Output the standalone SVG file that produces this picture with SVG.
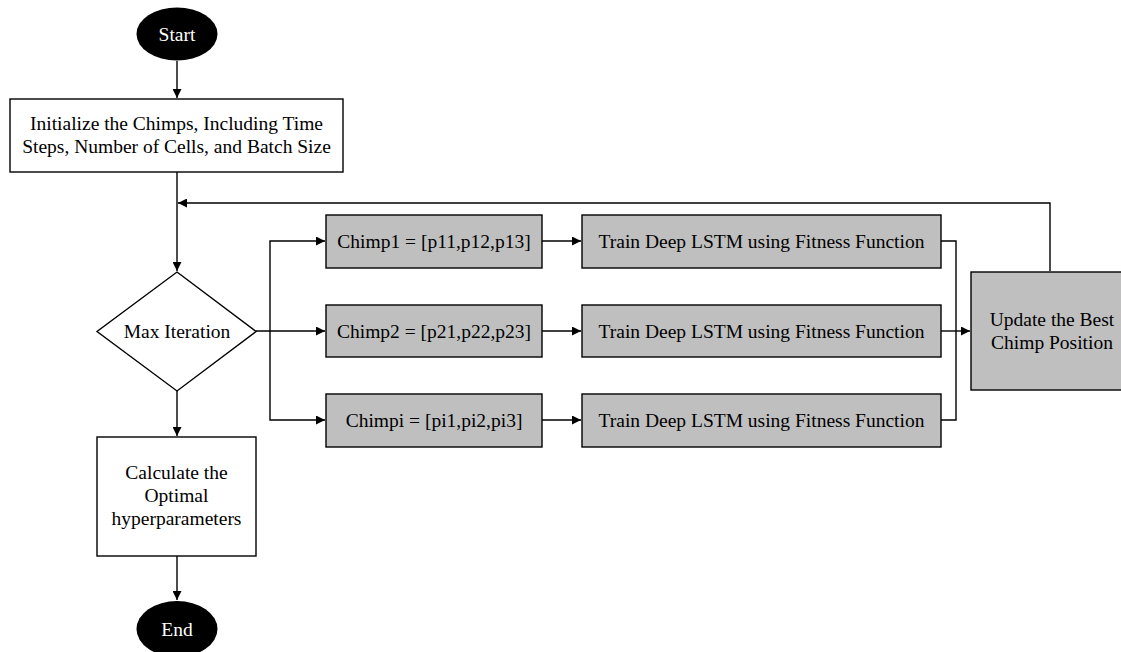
<svg xmlns="http://www.w3.org/2000/svg" width="1121" height="652" viewBox="0 0 1121 652">
<style>
text{font-family:"Liberation Serif","Times New Roman",serif;font-size:19.5px;fill:#000;text-anchor:middle}
.w{fill:#fff}
.box{fill:#fff;stroke:#000;stroke-width:1.4}
.g{fill:#bfbfbf;stroke:#000;stroke-width:1.4}
.term{fill:#000}
.c{fill:none;stroke:#000;stroke-width:1.4}
</style>
<defs>
<marker id="ah" viewBox="0 0 10 10" refX="10" refY="5" markerWidth="10" markerHeight="9" markerUnits="userSpaceOnUse" orient="auto">
<path d="M0,0 L10,5 L0,10 z" fill="#000"/>
</marker>
</defs>
<g id="connectors">
<path class="c" d="M177,61 V98" marker-end="url(#ah)"/>
<path class="c" d="M177,172 V271" marker-end="url(#ah)"/>
<path class="c" d="M1050,271 V203 H178" marker-end="url(#ah)"/>
<path class="c" d="M256,331 H325" marker-end="url(#ah)"/>
<path class="c" d="M270,331 V241 H325" marker-end="url(#ah)"/>
<path class="c" d="M270,331 V420 H325" marker-end="url(#ah)"/>
<path class="c" d="M542,241 H581" marker-end="url(#ah)"/>
<path class="c" d="M542,331 H581" marker-end="url(#ah)"/>
<path class="c" d="M542,420 H581" marker-end="url(#ah)"/>
<path class="c" d="M941,241 H956 V420 H941"/>
<path class="c" d="M941,331 H970" marker-end="url(#ah)"/>
<path class="c" d="M177,391 V436" marker-end="url(#ah)"/>
<path class="c" d="M177,556 V600" marker-end="url(#ah)"/>
</g>
<g id="start">
<ellipse class="term" cx="177" cy="34" rx="40.5" ry="26.5"/>
<text class="w" x="177" y="41">Start</text>
</g>
<g id="init">
<rect class="box" x="10" y="99" width="333" height="73"/>
<text x="176.5" y="130">Initialize the Chimps, Including Time</text>
<text x="176.5" y="153">Steps, Number of Cells, and Batch Size</text>
</g>
<g id="maxiter">
<path class="box" d="M177,272 L256,331.5 L177,391 L97,331.5 Z"/>
<text x="177" y="338">Max Iteration</text>
</g>
<g id="chimp1">
<rect class="g" x="326" y="215" width="216" height="53"/>
<text x="434" y="248">Chimp1 = [p11,p12,p13]</text>
</g>
<g id="chimp2">
<rect class="g" x="326" y="305" width="216" height="52"/>
<text x="434" y="338">Chimp2 = [p21,p22,p23]</text>
</g>
<g id="chimpi">
<rect class="g" x="326" y="394" width="216" height="53"/>
<text x="434" y="427">Chimpi = [pi1,pi2,pi3]</text>
</g>
<g id="train1">
<rect class="g" x="582" y="215" width="359" height="53"/>
<text x="761.5" y="248">Train Deep LSTM using Fitness Function</text>
</g>
<g id="train2">
<rect class="g" x="582" y="305" width="359" height="52"/>
<text x="761.5" y="338">Train Deep LSTM using Fitness Function</text>
</g>
<g id="traini">
<rect class="g" x="582" y="394" width="359" height="53"/>
<text x="761.5" y="427">Train Deep LSTM using Fitness Function</text>
</g>
<g id="update">
<rect class="g" x="971" y="272" width="158" height="118"/>
<text x="1052" y="326">Update the Best</text>
<text x="1052" y="349">Chimp Position</text>
</g>
<g id="calc">
<rect class="box" x="97" y="437" width="159" height="119"/>
<text x="176.5" y="479">Calculate the</text>
<text x="176.5" y="502">Optimal</text>
<text x="176.5" y="525">hyperparameters</text>
</g>
<g id="end">
<ellipse class="term" cx="177" cy="629" rx="40.5" ry="28"/>
<text class="w" x="177" y="636">End</text>
</g>
</svg>
